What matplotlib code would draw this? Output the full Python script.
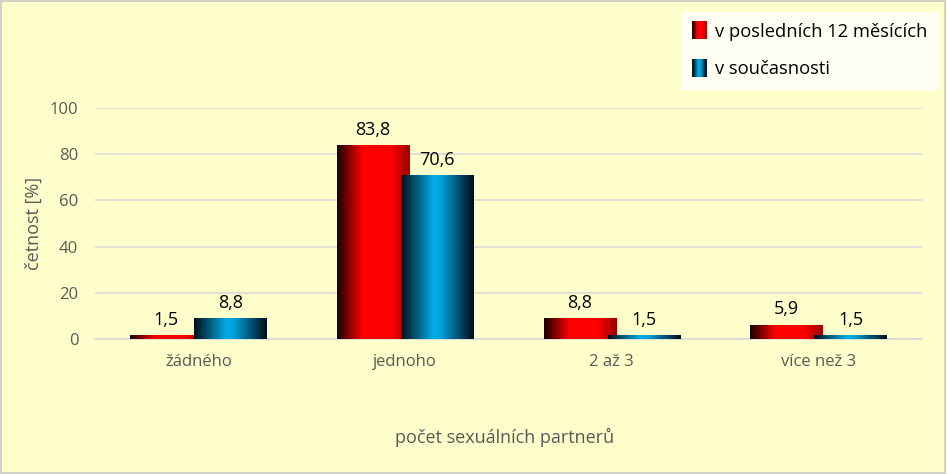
import matplotlib.pyplot as plt
import numpy as np
from matplotlib.colors import LinearSegmentedColormap
from matplotlib.patches import Rectangle
from matplotlib.legend_handler import HandlerBase

categories = ["žádného", "jednoho", "2 až 3", "více než 3"]
last_12_months = [1.5, 83.8, 8.8, 5.9]
currently = [8.8, 70.6, 1.5, 1.5]
labels_12 = ["1,5", "83,8", "8,8", "5,9"]
labels_now = ["8,8", "70,6", "1,5", "1,5"]
series_names = ["v posledních 12 měsících", "v současnosti"]
yticks = [0, 20, 40, 60, 80, 100]

plt.rcParams['font.family'] = ['Open Sans', 'DejaVu Sans']

bg = "#FFFFCC"
red_cmap = LinearSegmentedColormap.from_list(
    "red3d", [(0, "#1a0000"), (0.35, "#ff0000"), (0.72, "#ff0000"), (1, "#9a0000")])
blue_cmap = LinearSegmentedColormap.from_list(
    "blue3d", [(0, "#001018"), (0.45, "#00aee8"), (0.55, "#00a0d8"), (1, "#000c14")])
grad = np.linspace(0, 1, 256).reshape(1, -1)

fig = plt.figure(figsize=(9.47, 4.74), dpi=100, facecolor=bg)
fig.patches.append(Rectangle((0.001, 0.002), 0.997, 0.995, transform=fig.transFigure,
                             fill=False, edgecolor="#c8c8c8", linewidth=1.2))
ax = fig.add_axes([0.1003, 0.2848, 0.8733, 0.4873])
ax.set_facecolor(bg)

width = 0.35
offset = 0.155
x = np.arange(len(categories))


def gradient_bar(xc, h, cmap):
    x0, x1 = xc - width / 2, xc + width / 2
    ax.imshow(grad, cmap=cmap, extent=(x0, x1, 0, h), aspect="auto", zorder=3,
              interpolation="bilinear")


for i in range(len(categories)):
    gradient_bar(x[i] - offset, last_12_months[i], red_cmap)
    gradient_bar(x[i] + offset, currently[i], blue_cmap)
    ax.text(x[i] - offset, last_12_months[i] + 3, labels_12[i], ha="center",
            va="bottom", fontsize=13, color="black")
    ax.text(x[i] + offset, currently[i] + 3, labels_now[i], ha="center",
            va="bottom", fontsize=13, color="black")

ax.set_xlim(-0.5, len(categories) - 0.5)
ax.set_ylim(0, 100)
ax.set_yticks(yticks)
ax.set_xticks(x)
ax.set_xticklabels(categories)
ax.tick_params(axis="both", length=0, labelsize=12, colors="#595959")
ax.tick_params(axis="x", pad=11)
ax.tick_params(axis="y", pad=12)
ax.grid(axis="y", color="#d9d9d9", linewidth=1.2, zorder=0)
ax.set_axisbelow(True)
for s in ["top", "right", "left"]:
    ax.spines[s].set_visible(False)
ax.spines["bottom"].set_color("#d9d9d9")
ax.spines["bottom"].set_linewidth(1.2)

ax.set_ylabel("četnost [%]", fontsize=13, color="#595959", labelpad=5)
fig.text(0.533, 0.077, "počet sexuálních partnerů", ha="center", va="center",
         fontsize=13, color="#595959")


class GradientHandler(HandlerBase):
    def __init__(self, cmap):
        super().__init__()
        self.cmap = cmap

    def create_artists(self, legend, orig_handle, xdescent, ydescent, width_, height,
                       fontsize, trans):
        artists = []
        n = 12
        w = 10
        h = 13
        x0 = width_ - w - 2
        y0 = (height - h) / 2
        for k in range(n):
            r = Rectangle((x0 + k * w / n, y0), w / n + 0.3, h,
                          facecolor=self.cmap((k + 0.5) / n), edgecolor="none",
                          transform=trans)
            artists.append(r)
        return artists


h1 = Rectangle((0, 0), 1, 1)
h2 = Rectangle((0, 0), 1, 1)
leg = fig.legend([h1, h2], series_names, loc="upper right",
                 bbox_to_anchor=(0.9905, 0.975), borderaxespad=0, fontsize=13.2,
                 handler_map={h1: GradientHandler(red_cmap), h2: GradientHandler(blue_cmap)},
                 handlelength=0.9, handletextpad=0.3, labelspacing=1.05,
                 frameon=True, fancybox=False, borderpad=0.6)
leg.get_frame().set_facecolor("white")
leg.get_frame().set_edgecolor("white")
for t in leg.get_texts():
    t.set_color("black")

fig.savefig("out.png", dpi=100, facecolor=bg)
